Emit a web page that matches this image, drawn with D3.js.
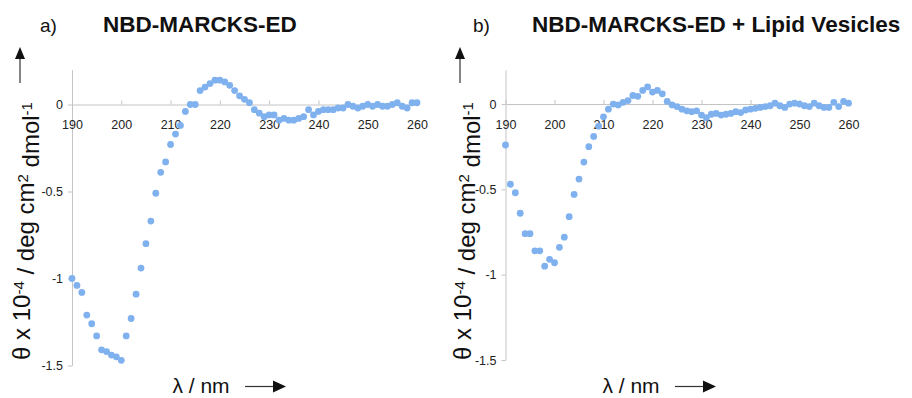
<!DOCTYPE html>
<html>
<head>
<meta charset="utf-8">
<script src="https://cdn.jsdelivr.net/npm/d3@7"></script>
<style>
    html, body { margin: 0; padding: 0; background: #fff; }
    svg { display: block; font-family: 'Liberation Sans', Arial, sans-serif; }
</style>
</head>
<body>
<div id="chart"></div>
<script>
// Data
const wavelengths = [
    190, 191, 192, 193, 194, 195, 196, 197, 198, 199,
    200, 201, 202, 203, 204, 205, 206, 207, 208, 209,
    210, 211, 212, 213, 214, 215, 216, 217, 218, 219,
    220, 221, 222, 223, 224, 225, 226, 227, 228, 229,
    230, 231, 232, 233, 234, 235, 236, 237, 238, 239,
    240, 241, 242, 243, 244, 245, 246, 247, 248, 249,
    250, 251, 252, 253, 254, 255, 256, 257, 258, 259, 260
];

// a) NBD-MARCKS-ED
const peptideOnly = [
    -1.00, -1.04, -1.08, -1.21, -1.26, -1.33, -1.41, -1.42, -1.44, -1.45,
    -1.47, -1.33, -1.23, -1.09, -0.94, -0.80, -0.67, -0.51, -0.39, -0.33,
    -0.23, -0.17, -0.12, -0.04, 0.00, 0.00, 0.08, 0.10, 0.12, 0.14,
    0.14, 0.13, 0.11, 0.08, 0.05, 0.03, 0.01, -0.03, -0.05, -0.07,
    -0.06, -0.06, -0.09, -0.08, -0.09, -0.09, -0.08, -0.07, -0.03, -0.06,
    -0.04, -0.03, -0.03, -0.03, -0.02, -0.02, 0.00, -0.01, -0.02, -0.01,
    0.00, -0.01, 0.00, -0.01, -0.01, 0.00, 0.01, -0.01, -0.02, 0.01, 0.01
];

// b) NBD-MARCKS-ED + Lipid Vesicles
const withVesicles = [
    -0.24, -0.47, -0.52, -0.64, -0.76, -0.76, -0.86, -0.86, -0.95, -0.91,
    -0.93, -0.84, -0.78, -0.66, -0.53, -0.44, -0.34, -0.25, -0.19, -0.13,
    -0.075, -0.03, 0.00, -0.005, 0.01, 0.02, 0.05, 0.045, 0.08, 0.10,
    0.07, 0.08, 0.06, 0.015, -0.005, -0.015, -0.03, -0.04, -0.045, -0.04,
    -0.065, -0.08, -0.06, -0.055, -0.065, -0.06, -0.055, -0.045, -0.05, -0.035,
    -0.03, -0.025, -0.02, -0.015, -0.01, 0.005, -0.01, -0.02, 0.00, 0.005,
    0.00, -0.01, -0.015, 0.005, -0.01, -0.02, -0.02, 0.01, -0.015, 0.015, 0.005
];

const xTicks = [190, 200, 210, 220, 230, 240, 250, 260];
const yTicks = [-1.5, -1, -0.5, 0];
const xDomain = [190, 260];
const yDomain = [-1.5, 0.2];

const panels = [
    {
        letter: 'a)', title: 'NBD-MARCKS-ED', values: peptideOnly,
        letterX: 40, titleX: 103,
        xRange: [72, 417], yRange: [365.5, 69.7],
        yTitleX: 22, arrowX: 20, xTitleX: 201
    },
    {
        letter: 'b)', title: 'NBD-MARCKS-ED + Lipid Vesicles', values: withVesicles,
        letterX: 473, titleX: 532,
        xRange: [505.5, 848.5], yRange: [360, 69.9],
        yTitleX: 463, arrowX: 460, xTitleX: 631
    }
];

const width = 912;
const height = 398;
const dotColor = '#7fb1ee';
const axisColor = '#c4c4c4';

const svg = d3.select('#chart')
    .append('svg')
    .attr('width', width)
    .attr('height', height);

panels.forEach(p => {
    const xScale = d3.scaleLinear().domain(xDomain).range(p.xRange);
    const yScale = d3.scaleLinear().domain(yDomain).range(p.yRange);
    const g = svg.append('g');

    // titles
    g.append('text')
        .attr('x', p.letterX)
        .attr('y', 32)
        .style('font-size', '19px')
        .style('fill', '#111')
        .text(p.letter);

    g.append('text')
        .attr('x', p.titleX)
        .attr('y', 32)
        .style('font-size', '22.5px')
        .style('font-weight', 'bold')
        .style('fill', '#111')
        .text(p.title);

    // y axis
    const yAxis = g.append('g')
        .attr('transform', 'translate(' + p.xRange[0] + ',0)')
        .call(d3.axisLeft(yScale).tickValues(yTicks).tickSizeInner(4).tickSizeOuter(0).tickPadding(5)
            .tickFormat(d => String(d)));

    yAxis.select('.domain').attr('stroke', axisColor);
    yAxis.selectAll('.tick line').attr('stroke', axisColor);
    yAxis.selectAll('text')
        .style('font-size', '12.5px')
        .style('font-family', "'Liberation Sans', Arial, sans-serif")
        .attr('fill', '#222');

    // x axis along zero
    const xAxis = g.append('g')
        .attr('transform', 'translate(0,' + yScale(0) + ')')
        .call(d3.axisBottom(xScale).tickValues(xTicks).tickSizeInner(-4).tickSizeOuter(0).tickPadding(16));

    xAxis.select('.domain').attr('stroke', axisColor);
    xAxis.selectAll('.tick line').attr('stroke', axisColor);
    xAxis.selectAll('text')
        .style('font-size', '12.5px')
        .style('font-family', "'Liberation Sans', Arial, sans-serif")
        .attr('fill', '#222');

    // points
    g.append('g')
        .selectAll('circle')
        .data(p.values)
        .join('circle')
        .attr('cx', (d, i) => xScale(wavelengths[i]))
        .attr('cy', d => yScale(d))
        .attr('r', 3.4)
        .attr('fill', dotColor);

    // y title
    const yTitle = g.append('text')
        .attr('transform', 'translate(' + p.yTitleX + ',' + 231 + ') rotate(-90)')
        .attr('text-anchor', 'middle')
        .attr('dy', '0.35em')
        .style('font-size', '24px')
        .style('fill', '#111');
    yTitle.append('tspan').text('\u03b8 x 10');
    yTitle.append('tspan').attr('dy', '-0.45em').style('font-size', '15px').text('-4');
    yTitle.append('tspan').attr('dy', '0.45em').text(' / deg cm');
    yTitle.append('tspan').attr('dy', '-0.45em').style('font-size', '15px').text('2');
    yTitle.append('tspan').attr('dy', '0.45em').text(' dmol');
    yTitle.append('tspan').attr('dy', '-0.45em').style('font-size', '15px').text('-1');

    // y arrow
    g.append('line')
        .attr('x1', p.arrowX).attr('x2', p.arrowX)
        .attr('y1', 83).attr('y2', 58)
        .attr('stroke', '#333')
        .attr('stroke-width', 1.2);
    g.append('path')
        .attr('d', d3.line()([[p.arrowX - 5, 59], [p.arrowX, 47], [p.arrowX + 5, 59]]) + 'Z')
        .attr('fill', '#111');

    // x title
    g.append('text')
        .attr('x', p.xTitleX)
        .attr('y', 393)
        .attr('text-anchor', 'middle')
        .style('font-size', '21px')
        .style('fill', '#111')
        .text('\u03bb / nm');

    const ax0 = p.xTitleX + 44;
    g.append('line')
        .attr('x1', ax0).attr('x2', ax0 + 30)
        .attr('y1', 386.5).attr('y2', 386.5)
        .attr('stroke', '#333')
        .attr('stroke-width', 1.2);
    g.append('path')
        .attr('d', d3.line()([[ax0 + 28, 380.5], [ax0 + 41, 386.5], [ax0 + 28, 392.5]]) + 'Z')
        .attr('fill', '#111');
});
</script>
</body>
</html>
